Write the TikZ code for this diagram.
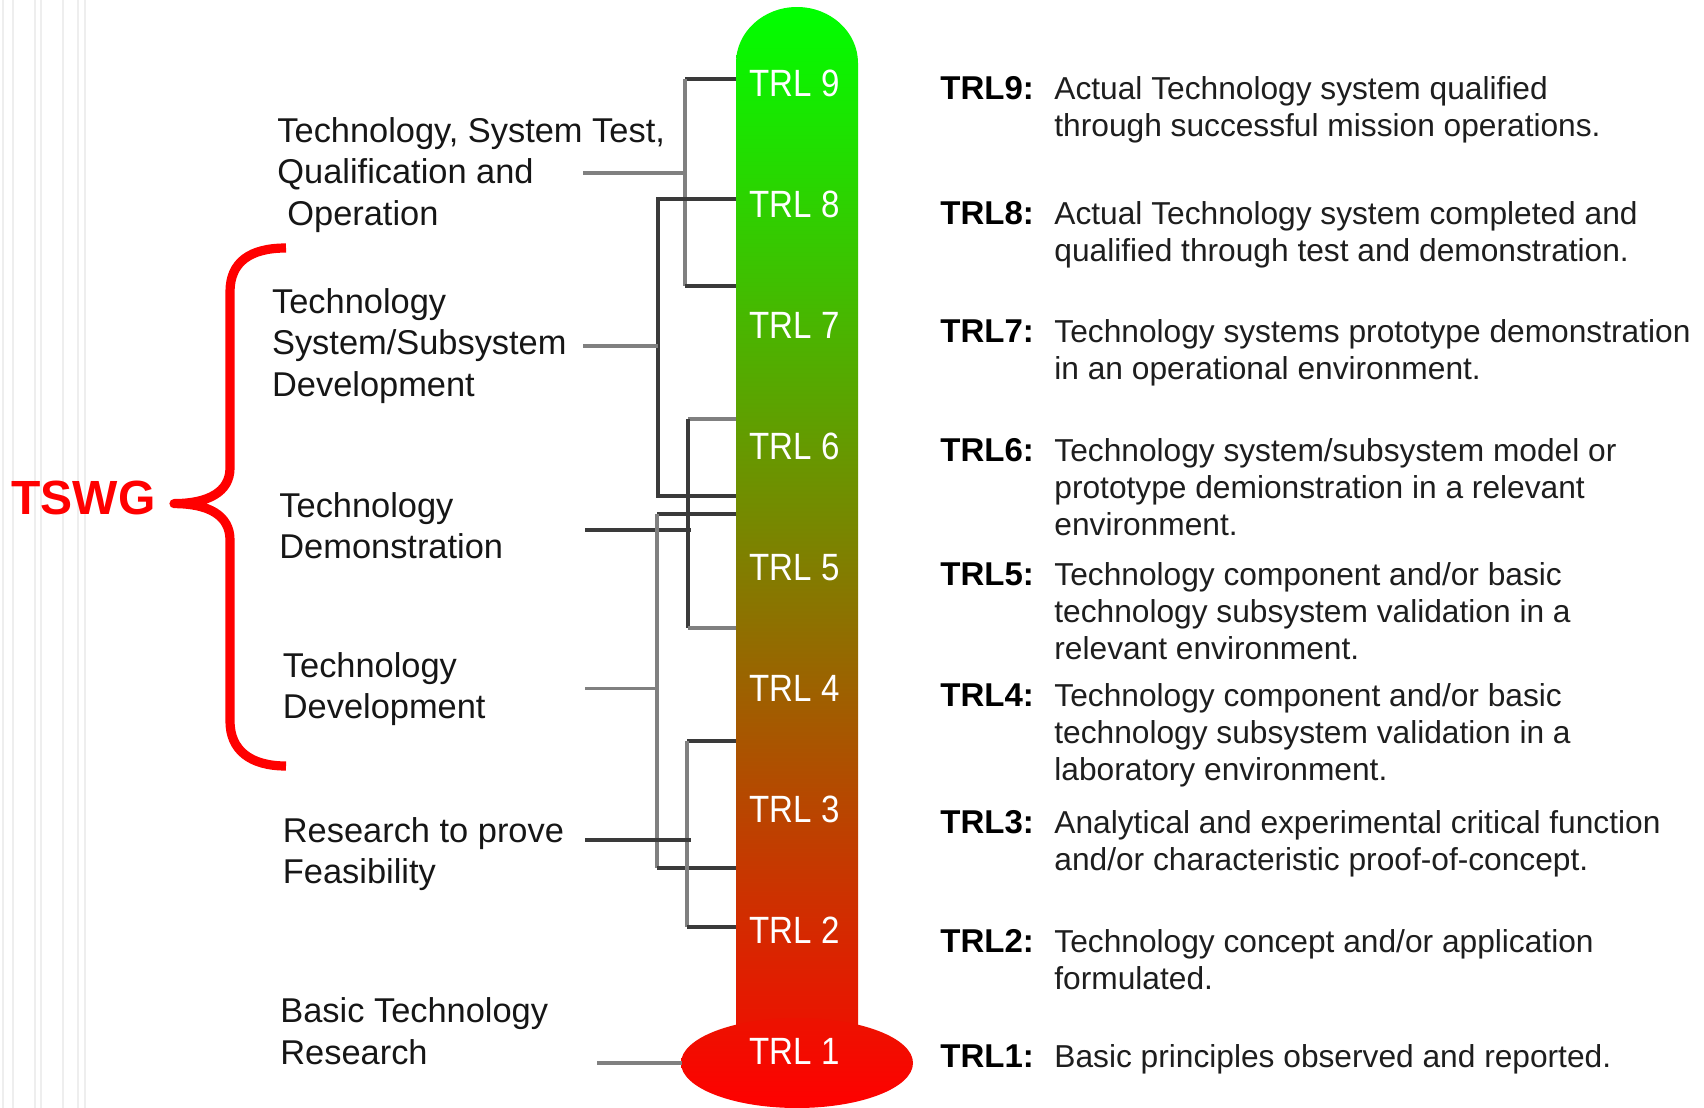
\documentclass[tikz,border=0pt]{standalone}
\usepackage{fontspec}
\setmainfont{Liberation Sans}
\usepackage{graphicx}
\newcommand\stk[2]{\vtop{\baselineskip=#1\halign{##\hfil\cr#2\crcr}}}
\definecolor{lnmid}{RGB}{128,128,128}
\definecolor{lndark}{RGB}{58,58,58}
\definecolor{lefttextc}{RGB}{22,22,22}
\definecolor{desctextc}{RGB}{30,30,30}
\definecolor{stripec}{RGB}{238,238,238}
\definecolor{bracered}{RGB}{255,0,0}
\definecolor{tubetop}{RGB}{0,255,0}
\definecolor{tubebot}{RGB}{243,11,0}
\definecolor{bulbtop}{RGB}{236,18,0}
\definecolor{bulbbot}{RGB}{255,0,0}
\tikzset{
  lnM/.style={draw=lnmid, line width=1.7pt},
  lnD/.style={draw=lndark, line width=1.7pt},
  lefttxt/.style={anchor=base west, inner sep=0pt, text=lefttextc, font=\fontsize{17.2}{20.8}\selectfont},
  rlab/.style={anchor=base west, inner sep=0pt, text=black, font=\fontsize{16.5}{19}\selectfont\bfseries},
  rdesc/.style={anchor=base west, inner sep=0pt, text=desctextc, font=\fontsize{15.85}{18.5}\selectfont},
  tubetxt/.style={anchor=base, inner sep=0pt, text=white, font=\fontsize{19}{22}\selectfont},
  stripe/.style={draw=stripec, line width=1.3pt},
  bracestyle/.style={draw=bracered, line width=4.6pt, line join=round, line cap=butt}
}
\begin{document}
\begin{tikzpicture}[x=0.5pt,y=-0.5pt]
\useasboundingbox (0,0) rectangle (1704,1108);
\fill[white] (0,0) rectangle (1704,1108);
% faint stripes at left edge
\foreach \sx in {3,13,35,41,63,78,85} {\draw[stripe] (\sx,0) -- (\sx,1108);}

% thermometer
\shade[top color=tubetop, bottom color=tubebot]
  (736,1062) -- (736,63) .. controls (736,32.1) and (763.3,7) .. (797,7)
  .. controls (830.7,7) and (858,32.1) .. (858,63) -- (858,1062) -- cycle;
\shade[top color=bulbtop, bottom color=bulbbot]
  (797,1063) ellipse [x radius=116, y radius=45];

% TRL labels in tube
\foreach \k in {9,8,...,1} {
  \node[tubetxt] (t\k) at (794.5,{96+(9-\k)*121}) {\scalebox{0.87}[1]{TRL \k}};
}

% coordinates for brackets
\coordinate (e9) at (736,79);   \coordinate (e7) at (736,286);
\coordinate (e8) at (736,199);  \coordinate (e6b) at (736,496);
\coordinate (e6) at (736,419);  \coordinate (e5b) at (736,628);
\coordinate (e5) at (736,514);  \coordinate (e3b) at (736,868);
\coordinate (e3) at (736,741);  \coordinate (e2b) at (736,927);
\coordinate (v1t) at (685,79);  \coordinate (v1b) at (685,286);
\coordinate (v2t) at (658,199); \coordinate (v2b) at (658,496);
\coordinate (v3t) at (688,419); \coordinate (v3b) at (688,628);
\coordinate (v4t) at (657,514); \coordinate (v4b) at (657,868);
\coordinate (v5t) at (687,741); \coordinate (v5b) at (687,927);
\coordinate (k1) at (685,173);  \coordinate (s1) at (583,173);
\coordinate (k2) at (658,346);  \coordinate (s2) at (583,346);
\coordinate (k3) at (691,530);  \coordinate (s3) at (585,530);
\coordinate (k4) at (657,688.5);\coordinate (s4) at (585,688.5);
\coordinate (k5) at (691,840);  \coordinate (s5) at (585,840);
\coordinate (k6) at (681.5,1063); \coordinate (s6) at (597,1063);

% bracket 1
\draw[lnD] (e9) -- (v1t);
\draw[lnM] (v1t) -- (v1b);
\draw[lnD] (v1b) -- (e7);
\draw[lnM] (s1) -- (k1);
% bracket 2
\draw[lnD] (e8) -- (v2t) -- (v2b) -- (e6b);
\draw[lnM] (s2) -- (k2);
% bracket 3
\draw[lnM] (e6) -- (v3t);
\draw[lnD] (v3t) -- (v3b);
\draw[lnM] (v3b) -- (e5b);
\draw[lnD] (s3) -- (k3);
% bracket 4
\draw[lnD] (e5) -- (v4t);
\draw[lnM] (v4t) -- (v4b);
\draw[lnD] (v4b) -- (e3b);
\draw[lnM] (s4) -- (k4);
% bracket 5
\draw[lnD] (e3) -- (v5t);
\draw[lnM] (v5t) -- (v5b);
\draw[lnD] (v5b) -- (e2b);
\draw[lnD] (s5) -- (k5);
% TRL1 connector
\draw[lnM] (s6) -- (k6);

% left labels
\node[lefttxt] (g1) at (277,142.7) {\stk{20.6pt}{Technology, System Test,\cr Qualification and\cr\hskip5pt Operation}};
\node[lefttxt] (g2) at (271.7,313) {\stk{20.9pt}{Technology\cr System/Subsystem\cr Development}};
\node[lefttxt] (g3) at (279,517) {\stk{20.9pt}{Technology\cr Demonstration}};
\node[lefttxt] (g4) at (282.5,677) {\stk{20.9pt}{Technology\cr Development}};
\node[lefttxt] (g5) at (282.5,842) {\stk{20.9pt}{Research to prove\cr Feasibility}};
\node[lefttxt] (g6) at (280,1022.6) {\stk{20.9pt}{Basic Technology\cr Research}};

% TSWG and brace
\node[anchor=base west, inner sep=0pt, text=bracered, font=\fontsize{24}{28}\selectfont\bfseries] (tswg) at (11,514) {TSWG};
\coordinate (brtop) at (286,248);
\coordinate (brtip) at (174,503.6);
\coordinate (brbot) at (286,766);
\draw[bracestyle] (brtop) .. controls (250,248) and (230,262) .. (230,292) -- (230,468)
  .. controls (230,492) and (208,503.6) .. (brtip)
  .. controls (208,503.6) and (230,515) .. (230,540) -- (230,721)
  .. controls (230,750) and (250,766) .. (brbot);

% right descriptions
\node[rlab] (r9) at (940,99) {TRL9:};
\node[rdesc] (d9) at (1054,99) {\stk{18.5pt}{Actual Technology system qualified\cr through successful mission operations.}};
\node[rlab] (r8) at (940,224) {TRL8:};
\node[rdesc] (d8) at (1054,224) {\stk{18.5pt}{Actual Technology system completed and\cr qualified through test and demonstration.}};
\node[rlab] (r7) at (940,342) {TRL7:};
\node[rdesc] (d7) at (1054,342) {\stk{18.5pt}{Technology systems prototype demonstration\cr in an operational environment.}};
\node[rlab] (r6) at (940,461) {TRL6:};
\node[rdesc] (d6) at (1054,461) {\stk{18.5pt}{Technology system/subsystem model or\cr prototype demionstration in a relevant\cr environment.}};
\node[rlab] (r5) at (940,585) {TRL5:};
\node[rdesc] (d5) at (1054,585) {\stk{18.5pt}{Technology component and/or basic\cr technology subsystem validation in a\cr relevant environment.}};
\node[rlab] (r4) at (940,706) {TRL4:};
\node[rdesc] (d4) at (1054,706) {\stk{18.5pt}{Technology component and/or basic\cr technology subsystem validation in a\cr laboratory environment.}};
\node[rlab] (r3) at (940,833) {TRL3:};
\node[rdesc] (d3) at (1054,833) {\stk{18.5pt}{Analytical and experimental critical function\cr and/or characteristic proof-of-concept.}};
\node[rlab] (r2) at (940,952) {TRL2:};
\node[rdesc] (d2) at (1054,952) {\stk{18.5pt}{Technology concept and/or application\cr formulated.}};
\node[rlab] (r1) at (940,1067) {TRL1:};
\node[rdesc] (d1) at (1054,1067) {Basic principles observed and reported.};
\end{tikzpicture}
\end{document}
